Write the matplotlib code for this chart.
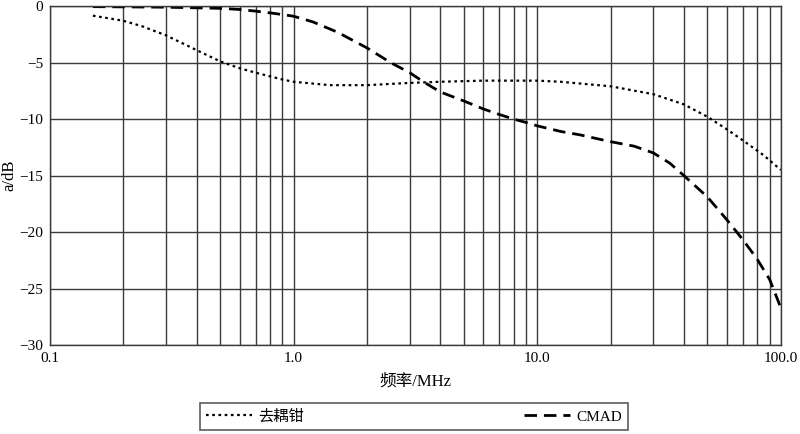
import matplotlib
matplotlib.use("Agg")
import matplotlib.pyplot as plt
from matplotlib.ticker import FixedLocator, FixedFormatter, LogLocator, NullFormatter

# 去耦钳 (decoupling clamp)
clamp_freq = [0.15, 0.2, 0.24, 0.3, 0.4, 0.5, 0.6, 0.7, 0.9, 1.0, 1.41, 2.0, 3.0, 4.0, 6.0, 10.0, 12.5,
              20.0, 30.0, 40.0, 50.0, 60.0, 70.0, 85.0, 100.0]
clamp_db = [-0.85, -1.3, -1.8, -2.6, -3.9, -4.9, -5.5, -5.9, -6.5, -6.7, -7.0, -7.0, -6.8, -6.7, -6.6, -6.6, -6.7,
            -7.1, -7.8, -8.7, -9.8, -10.9, -11.9, -13.2, -14.5]

# CMAD
cmad_freq = [0.15, 0.3, 0.5, 0.6, 0.7, 0.8, 0.9, 1.0, 1.2, 1.51, 2.0, 2.5, 3.0, 3.41, 4.0, 5.0, 6.0, 7.0, 8.0, 9.0,
             10.0, 12.5, 15.0, 20.0, 25.0, 30.0, 35.0, 40.0, 50.0, 60.0, 70.0, 80.0, 90.0, 100.0]
cmad_db = [-0.05, -0.1, -0.2, -0.3, -0.45, -0.6, -0.75, -0.9, -1.4, -2.3, -3.7, -5.0, -5.9, -6.7, -7.6, -8.4, -9.1,
           -9.6, -10.0, -10.3, -10.6, -11.1, -11.4, -12.0, -12.4, -13.0, -13.9, -15.0, -16.9, -18.9, -20.7, -22.4,
           -24.2, -26.7]

x_ticks = [0.1, 1.0, 10.0, 100.0]
x_labels = ["0.1", "1.0", "10.0", "100.0"]
y_ticks = [0, -5, -10, -15, -20, -25, -30]
y_labels = ["0", "\u22125", "\u221210", "\u221215", "\u221220", "\u221225", "\u221230"]

serif = ["Liberation Serif", "Noto Sans CJK SC"]
grid_col = "#3a3a3a"

fig = plt.figure(figsize=(8, 4.34), dpi=100)
ax = fig.add_axes([0.0625, 0.205, 0.9135, 0.781])

ax.plot(clamp_freq, clamp_db, color="black", lw=1.6, linestyle=(0, (1.2, 1.6)), label="去耦钳")
ax.plot(cmad_freq, cmad_db, color="black", lw=2.0, linestyle=(0, (4.5, 2.5)), label="CMAD")

ax.set_xscale("log")
ax.set_xlim(0.1, 100)
ax.set_ylim(-30, 0)

ax.xaxis.set_major_locator(FixedLocator(x_ticks))
ax.xaxis.set_major_formatter(FixedFormatter(x_labels))
ax.xaxis.set_minor_locator(LogLocator(base=10, subs=range(2, 10)))
ax.xaxis.set_minor_formatter(NullFormatter())
ax.set_yticks(y_ticks)
ax.set_yticklabels(y_labels)

ax.grid(True, which="both", axis="x", color=grid_col, lw=1.0)
ax.grid(True, which="major", axis="y", color=grid_col, lw=1.0)
ax.set_axisbelow(True)
for sp in ax.spines.values():
    sp.set_color(grid_col)
    sp.set_linewidth(1.0)

ax.tick_params(which="both", length=0, labelsize=11, pad=5)
for lab in ax.get_xticklabels() + ax.get_yticklabels():
    lab.set_family(serif)

ax.set_xlabel("频率/MHz", family=serif, fontsize=12, labelpad=6)
ax.set_ylabel("a/dB", family=serif, fontsize=12)
ax.yaxis.set_label_coords(-0.045, 0.5)

leg = fig.legend(loc="lower left", bbox_to_anchor=(0.25, 0.01, 0.535, 0.062), mode="expand", ncol=2,
                 frameon=True, fancybox=False, edgecolor="#333333", handlelength=3.0, handletextpad=0.4,
                 borderaxespad=0, prop={"family": serif, "size": 11})
leg.get_frame().set_linewidth(1.2)

fig.savefig("out.png", dpi=100)
